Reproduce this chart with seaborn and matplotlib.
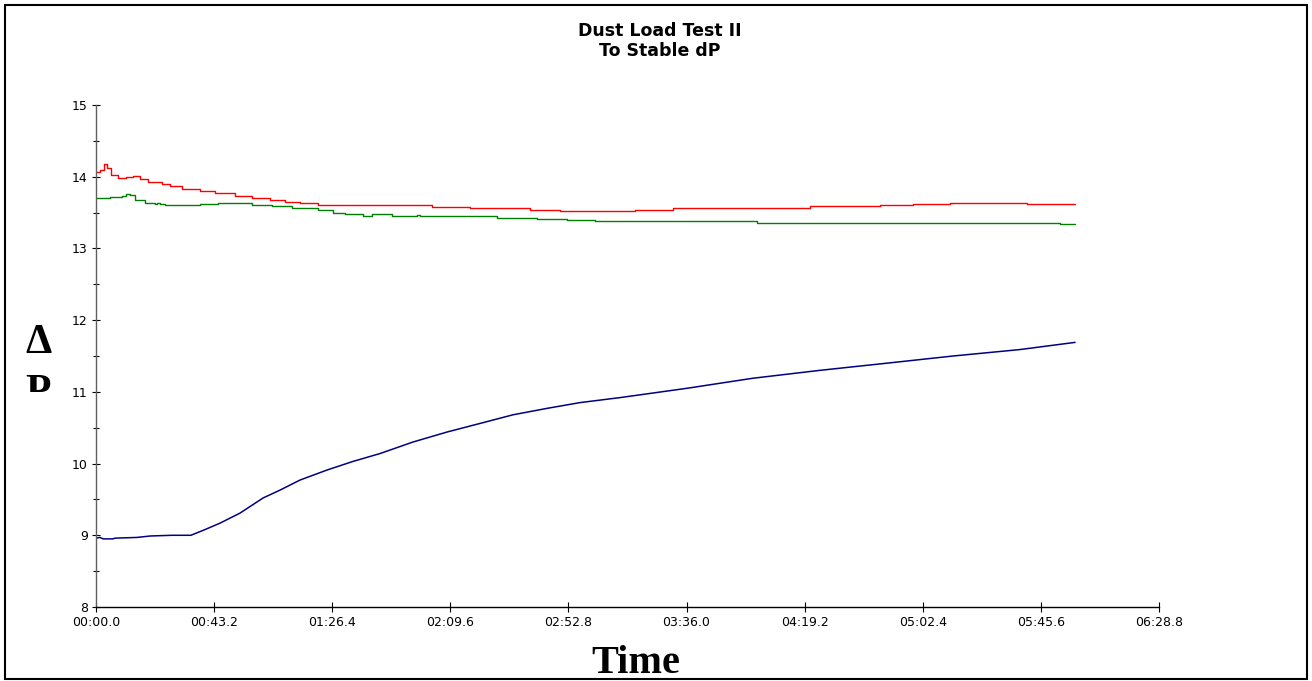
import numpy as np
import pandas as pd
import seaborn as sns
import matplotlib
matplotlib.use("Agg")
import matplotlib.pyplot as plt
from matplotlib.patches import Rectangle
from matplotlib.transforms import Bbox, TransformedBbox
from matplotlib.ticker import MultipleLocator

# ---------------- data (time in seconds, dP values) ----------------
red_t = [0, 1.5, 2.9, 4.0, 5.5, 8.0, 11.0, 13.5, 16.1, 19.0, 24.1, 27.0, 31.5, 38.0,
         43.5, 50.8, 57.0, 63.6, 69.1, 74.6, 81.2, 122.9, 136.8, 149.6, 158.7, 169.7,
         197.1, 211.0, 224.9, 261.2, 286.8, 298.8, 312.4, 340.5, 358.1]
red_v = [14.07, 14.10, 14.18, 14.12, 14.03, 13.98, 14.00, 14.01, 13.97, 13.93, 13.90,
         13.87, 13.83, 13.80, 13.77, 13.73, 13.70, 13.68, 13.65, 13.63, 13.61, 13.58,
         13.57, 13.56, 13.54, 13.52, 13.54, 13.56, 13.57, 13.59, 13.61, 13.62, 13.64,
         13.62, 13.62]

green_t = [0, 5.1, 9.5, 11.0, 12.4, 14.3, 17.9, 21.6, 22.3, 23.4, 25.2, 34.4, 38.0,
           44.6, 54.5, 57.1, 64.4, 71.7, 81.2, 86.7, 91.1, 97.7, 101.0, 108.3, 117.4,
           118.5, 146.7, 161.3, 172.3, 182.5, 241.8, 270.3, 298.8, 352.6, 358.1]
green_v = [13.71, 13.72, 13.73, 13.76, 13.74, 13.68, 13.63, 13.62, 13.64, 13.62, 13.61,
           13.61, 13.62, 13.63, 13.64, 13.61, 13.59, 13.56, 13.54, 13.50, 13.48, 13.45,
           13.48, 13.45, 13.47, 13.45, 13.43, 13.41, 13.40, 13.38, 13.36, 13.35, 13.36,
           13.34, 13.34]

blue_t = [0, 1.5, 2.6, 6.2, 6.9, 15.0, 19.8, 27.8, 34.7, 39.9, 45.4, 52.7, 61.1, 67.3,
          74.6, 84.5, 94.0, 103.9, 115.9, 128.4, 140.5, 152.5, 165.0, 177.0, 191.7,
          216.2, 240.3, 264.8, 289.3, 313.5, 338.0, 358.1]
blue_v = [8.96, 8.97, 8.95, 8.95, 8.96, 8.97, 8.99, 9.00, 9.00, 9.08, 9.17, 9.31, 9.52,
          9.63, 9.77, 9.91, 10.03, 10.14, 10.30, 10.44, 10.56, 10.68, 10.77, 10.85, 10.92,
          11.05, 11.19, 11.30, 11.40, 11.50, 11.59, 11.69]

xtick_vals = [0, 43.2, 86.4, 129.6, 172.8, 216.0, 259.2, 302.4, 345.6, 388.8]
xtick_labels = ["00:00.0", "00:43.2", "01:26.4", "02:09.6", "02:52.8", "03:36.0",
                "04:19.2", "05:02.4", "05:45.6", "06:28.8"]
ytick_vals = [8, 9, 10, 11, 12, 13, 14, 15]

title_text = "Dust Load Test II\nTo Stable dP"
xlabel_text = "Time"

# ---------------- plot ----------------
sns.set_style("white")
plt.rcParams["font.family"] = ["DejaVu Sans"]
plt.rcParams["text.color"] = "black"
plt.rcParams["xtick.color"] = "black"
plt.rcParams["ytick.color"] = "black"

W, H = 1312, 681
fig = plt.figure(figsize=(W / 100, H / 100), dpi=100)
ax = fig.add_axes([96 / W, 1 - 607 / H, (1159 - 96) / W, (607 - 105) / H])

sns.lineplot(x=red_t, y=red_v, ax=ax, color="#FF0000", linewidth=1.0,
             drawstyle="steps-post", estimator=None, sort=False)
sns.lineplot(x=green_t, y=green_v, ax=ax, color="#008000", linewidth=1.0,
             drawstyle="steps-post", estimator=None, sort=False)
sns.lineplot(x=blue_t, y=blue_v, ax=ax, color="#000080", linewidth=1.1,
             estimator=None, sort=False)

ax.set_xlim(0, 388.8)
ax.set_ylim(8, 15)
ax.set_xticks(xtick_vals, xtick_labels)
ax.set_yticks(ytick_vals)
ax.yaxis.set_minor_locator(MultipleLocator(0.5))
ax.set_xlabel("")
ax.set_ylabel("")

for s in ["top", "right"]:
    ax.spines[s].set_visible(False)
ax.spines["left"].set_color("#606060")
ax.spines["bottom"].set_color("black")
ax.spines["left"].set_linewidth(1.0)
ax.spines["bottom"].set_linewidth(1.0)

ax.tick_params(axis="x", which="major", direction="inout", length=7, width=0.8,
               color="black", labelcolor="black", labelsize=9, pad=3, bottom=True)
ax.tick_params(axis="y", which="major", direction="inout", length=6, width=0.8,
               color="black", labelcolor="black", labelsize=9, pad=3, left=True)
ax.tick_params(axis="y", which="minor", direction="inout", length=4, width=0.8,
               color="black", left=True)

fig.text(660 / W, 1 - 41 / H, title_text, ha="center", va="center", color="black",
         fontsize=12.5, fontweight="bold", linespacing=1.2)

fig.text(636 / W, 1 - 673 / H, xlabel_text, ha="center", va="baseline", color="black",
         fontsize=29, fontweight="bold", family=["Liberation Serif"])

fig.text(38 / W, 1 - 353 / H, "Δ", ha="center", va="baseline", color="black",
         fontsize=30, fontweight="bold", family=["Liberation Serif", "DejaVu Serif"])
p = fig.text(38 / W, 1 - 403 / H, "P", ha="center", va="baseline", color="black",
             fontsize=30, fontweight="bold", family=["Liberation Serif"])
p.set_clip_box(TransformedBbox(Bbox([[0, 1 - 392 / H], [0.1, 1]]), fig.transFigure))
p.set_clip_on(True)

fig.patches.append(Rectangle((5 / W, 1 - 679 / H), 1302 / W, 674 / H,
                             transform=fig.transFigure, fill=False,
                             edgecolor="black", linewidth=1.5))

fig.savefig("out.png", dpi=100)
